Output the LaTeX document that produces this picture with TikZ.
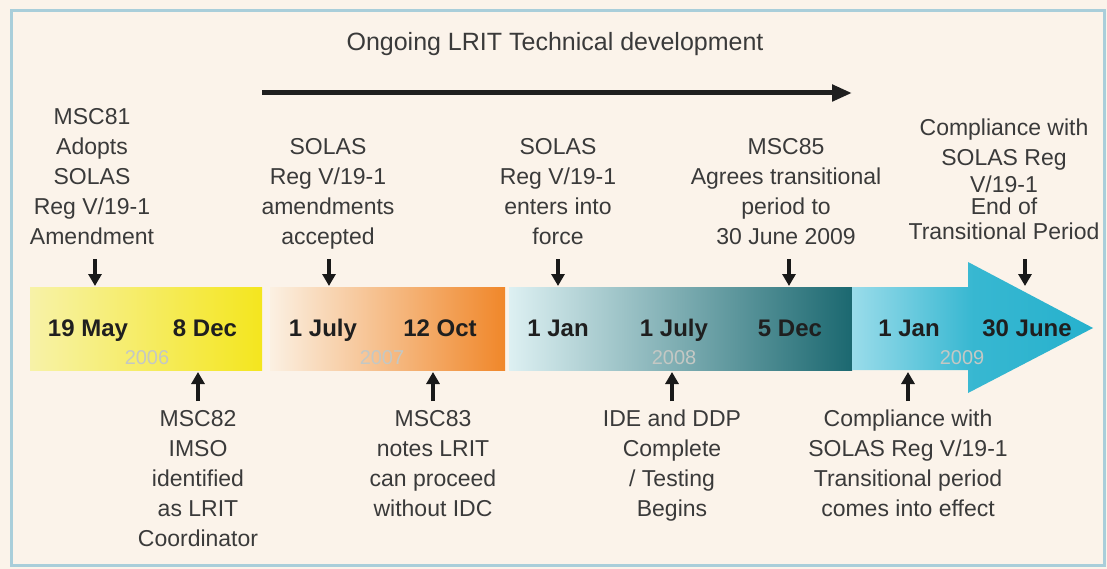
\documentclass[tikz,border=0pt]{standalone}
\usepackage{fontspec}
\setmainfont{Liberation Sans}
\usetikzlibrary{arrows.meta}

\definecolor{bgcream}{HTML}{FBF3EA}
\definecolor{framebl}{HTML}{A9CEDA}
\definecolor{txtgray}{HTML}{3A3A3A}
\definecolor{yelA}{HTML}{F7F2A8}
\definecolor{yelB}{HTML}{F4E61E}
\definecolor{oraA}{HTML}{FBF0E2}
\definecolor{oraB}{HTML}{F0872A}
\definecolor{tealA}{HTML}{DDF0F2}
\definecolor{tealB}{HTML}{1B6870}
\definecolor{cyaA}{HTML}{9ADCEA}
\definecolor{cyaB}{HTML}{26B1CD}
\definecolor{yeargray}{HTML}{C4C8C4}

\begin{document}
\begin{tikzpicture}[x=1pt, y=-1pt,
    lbl/.style={font=\fontsize{23}{30}\selectfont, text=txtgray, align=center, inner sep=0pt, anchor=north},
    datelbl/.style={font=\bfseries\fontsize{24}{26}\selectfont, text=black!88, inner sep=0pt, anchor=base},
    yearlbl/.style={font=\fontsize{20}{24}\selectfont, text=yeargray, inner sep=0pt, anchor=base},
    pin/.style={-{Triangle[length=12pt, width=13pt]}, line width=3.2pt, black!90}]
    \useasboundingbox (0,0) rectangle (1107,569);
    % Frame
    \fill[bgcream] (0,0) rectangle (1107,569);
    \draw[framebl, line width=3pt] (11,11) rectangle (1104,565);

    % Ongoing development
    \node[font=\fontsize{25}{28}\selectfont, text=txtgray, inner sep=0pt, anchor=base] (title) at (555,51) {Ongoing LRIT Technical development};
    \coordinate (devstart) at (262,93);
    \coordinate (devend) at (852,93);
    \draw[-{Triangle[length=20pt, width=16pt]}, line width=5pt, black!88] (devstart) -- (devend);

    % Year bands
    \shade[left color=yelA, right color=yelB] (30,287) rectangle (262,370);
    \shade[left color=oraA, right color=oraB] (270,287) rectangle (505,370);
    \shade[left color=tealA, right color=tealB] (509,287) rectangle (852,370);
    \shade[left color=cyaA, right color=cyaB, middle color=cyaB!85!cyaA]
        (852,287) -- (968,287) -- (968,262) -- (1093,328) -- (968,393) -- (968,370) -- (852,370) -- cycle;

    % Dates
    \node[datelbl] (may06) at (88,336) {19 May};
    \node[datelbl] (dec06) at (205,336) {8 Dec};
    \node[datelbl] (jul07) at (323,336) {1 July};
    \node[datelbl] (oct07) at (440,336) {12 Oct};
    \node[datelbl] (jan08) at (558,336) {1 Jan};
    \node[datelbl] (jul08) at (674,336) {1 July};
    \node[datelbl] (dec08) at (790,336) {5 Dec};
    \node[datelbl] (jan09) at (909,336) {1 Jan};
    \node[datelbl] (jun09) at (1027,336) {30 June};

    % Years
    \node[yearlbl] (y06) at (147,364) {2006};
    \node[yearlbl] (y07) at (382,364) {2007};
    \node[yearlbl] (y08) at (674,364) {2008};
    \node[yearlbl] (y09) at (962,364) {2009};

    % Events above the line
    \node[lbl] (msc81) at (92,108) {MSC81\\Adopts\\SOLAS\\Reg V/19-1\\Amendment};
    \node[lbl] (accepted) at (328,138) {SOLAS\\Reg V/19-1\\amendments\\accepted};
    \node[lbl] (force) at (558,138) {SOLAS\\Reg V/19-1\\enters into\\force};
    \node[lbl] (msc85) at (786,138) {MSC85\\Agrees transitional\\period to\\30 June 2009};
    \node[lbl] (endtrans) at (1004,119) {Compliance with\\SOLAS Reg\\[-3pt]V/19-1\\[-8pt]End of\\[-5pt]Transitional Period};

    \coordinate (p1a) at (95,259);   \coordinate (p1b) at (95,286);
    \coordinate (p2a) at (329,259);  \coordinate (p2b) at (329,286);
    \coordinate (p3a) at (558,259);  \coordinate (p3b) at (558,286);
    \coordinate (p4a) at (789,259);  \coordinate (p4b) at (789,286);
    \coordinate (p5a) at (1025,259); \coordinate (p5b) at (1025,286);
    \draw[pin] (p1a) -- (p1b);
    \draw[pin] (p2a) -- (p2b);
    \draw[pin] (p3a) -- (p3b);
    \draw[pin] (p4a) -- (p4b);
    \draw[pin] (p5a) -- (p5b);

    % Events below the line
    \node[lbl] (msc82) at (198,410) {MSC82\\IMSO\\identified\\as LRIT\\Coordinator};
    \node[lbl] (msc83) at (433,410) {MSC83\\notes LRIT\\can proceed\\without IDC};
    \node[lbl] (testing) at (672,410) {IDE and DDP\\Complete\\/ Testing\\Begins};
    \node[lbl] (comestrans) at (908,410) {Compliance with\\SOLAS Reg V/19-1\\Transitional period\\comes into effect};

    \coordinate (q1a) at (198,401); \coordinate (q1b) at (198,372);
    \coordinate (q2a) at (433,401); \coordinate (q2b) at (433,372);
    \coordinate (q3a) at (672,401); \coordinate (q3b) at (672,372);
    \coordinate (q4a) at (908,401); \coordinate (q4b) at (908,372);
    \draw[pin] (q1a) -- (q1b);
    \draw[pin] (q2a) -- (q2b);
    \draw[pin] (q3a) -- (q3b);
    \draw[pin] (q4a) -- (q4b);
\end{tikzpicture}
\end{document}
